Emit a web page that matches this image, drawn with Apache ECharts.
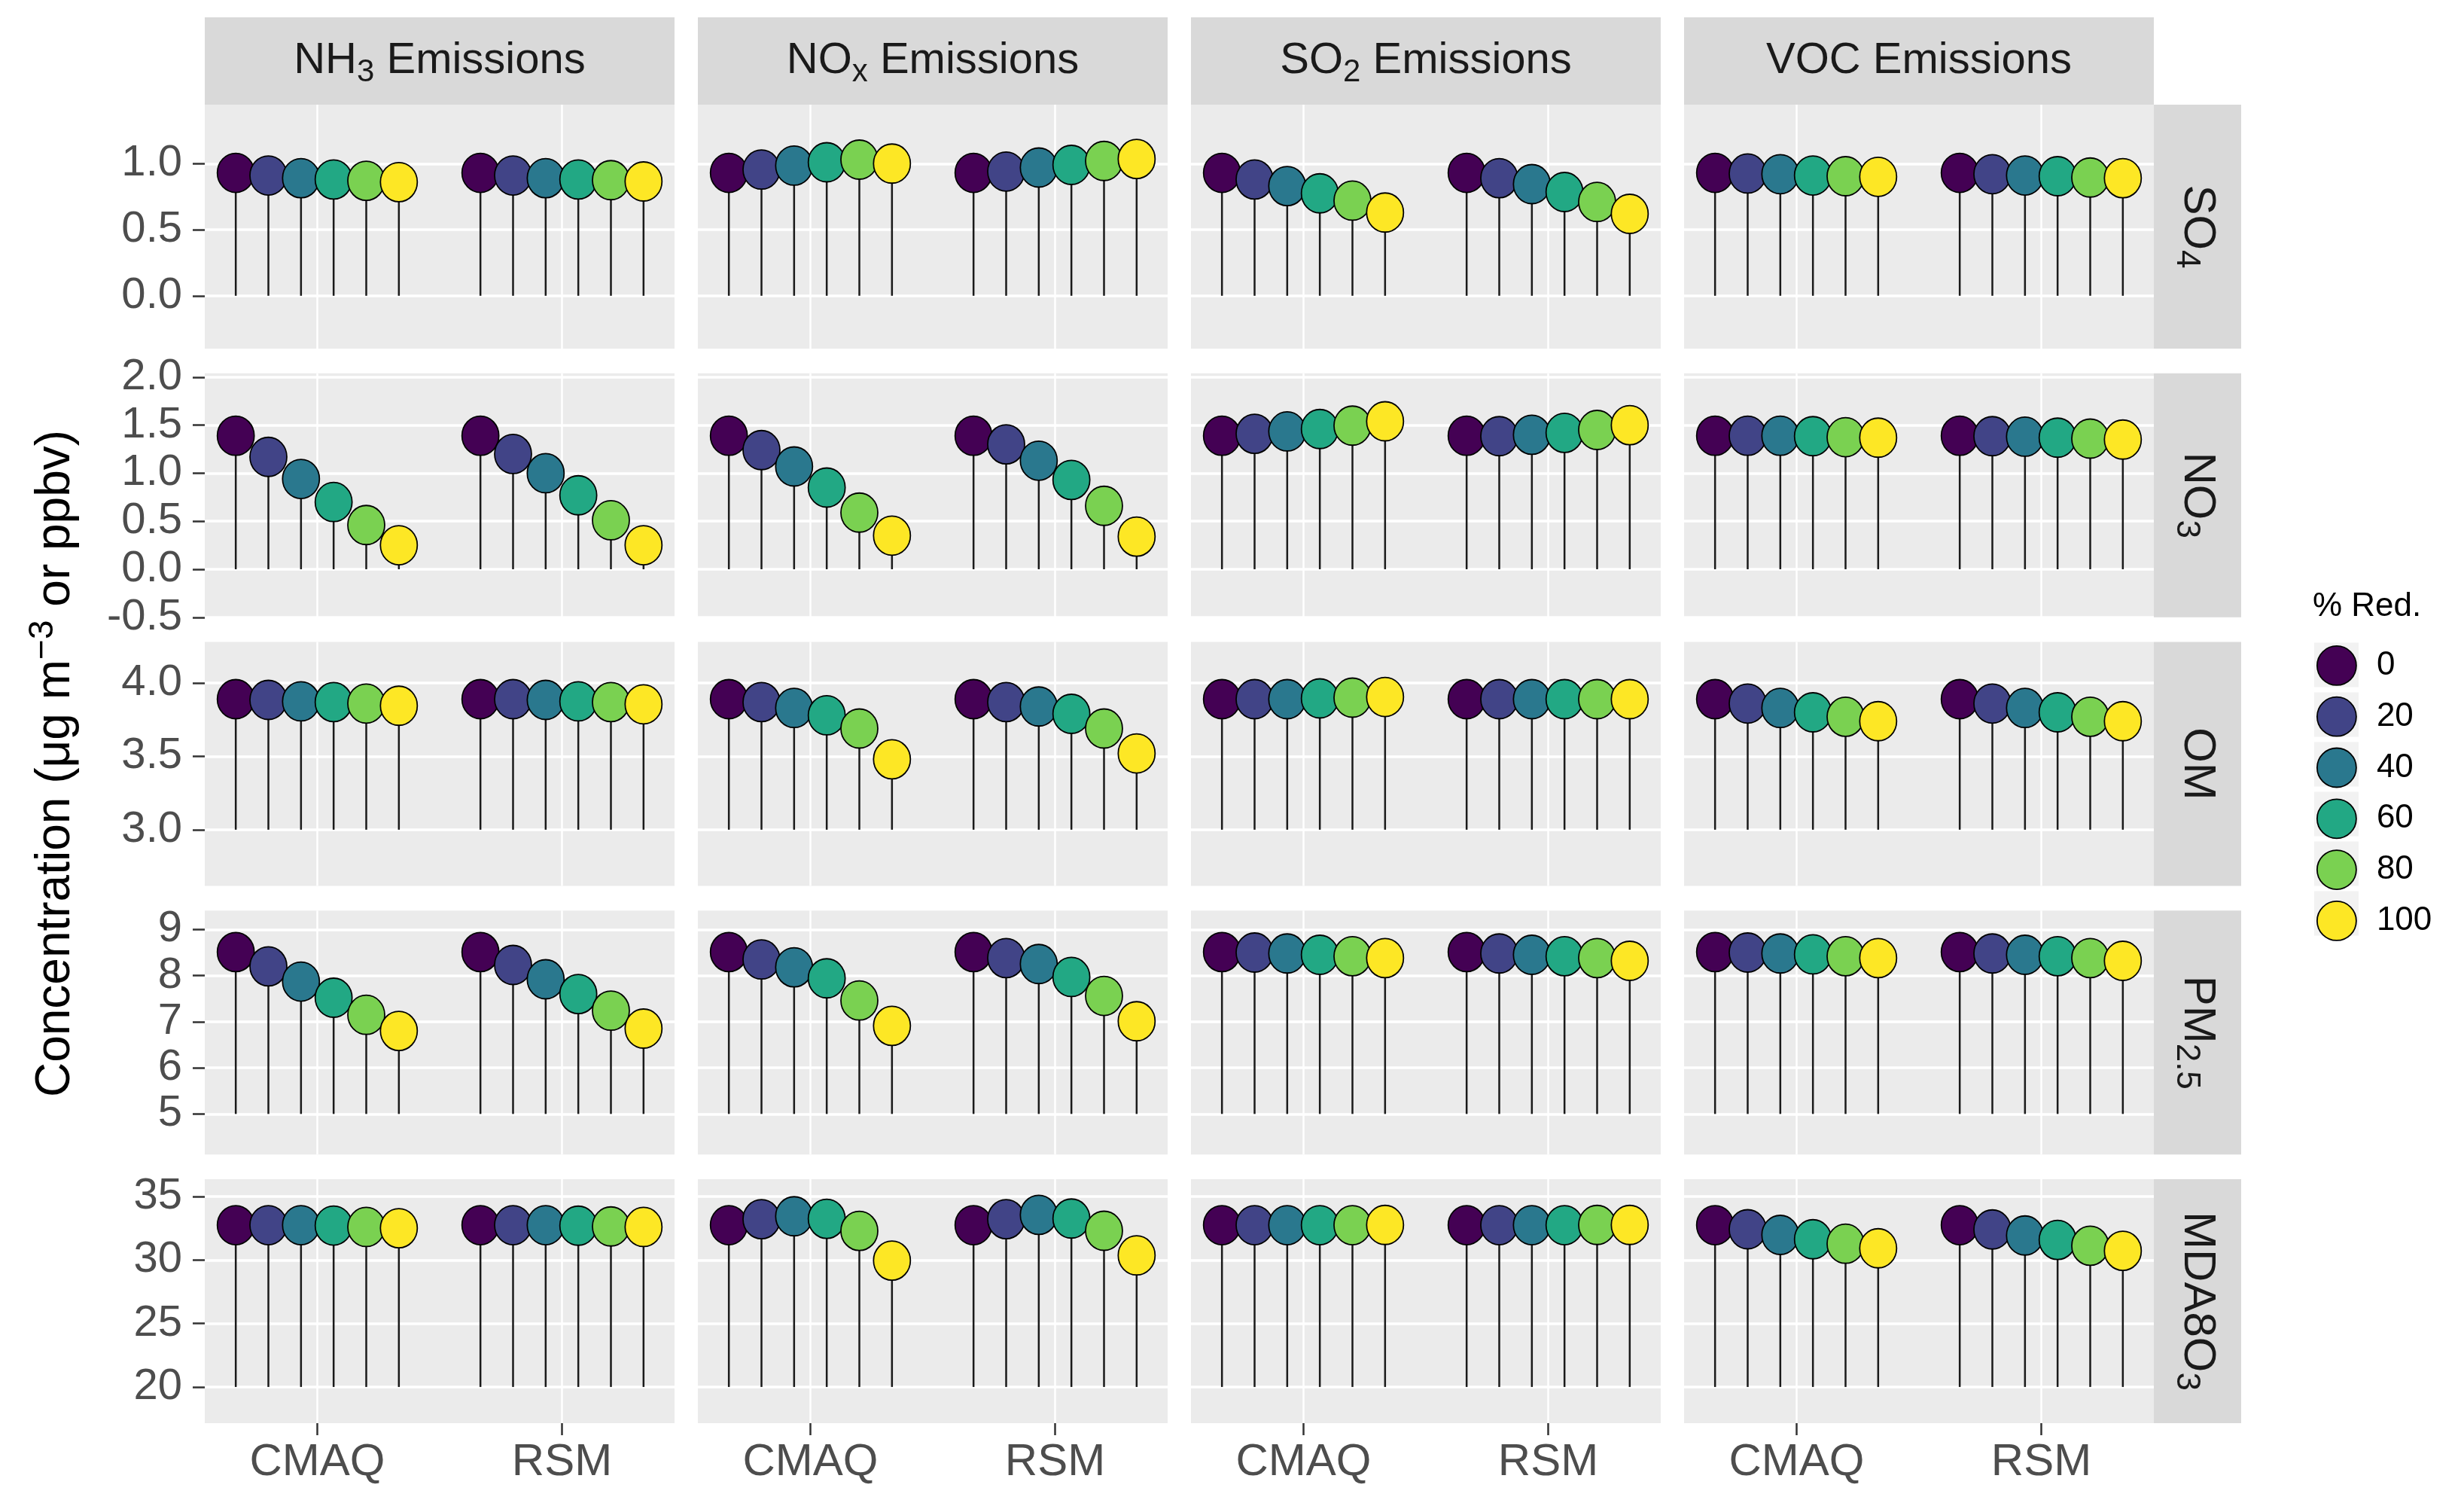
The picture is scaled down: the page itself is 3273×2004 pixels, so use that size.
<!DOCTYPE html>
<html><head><meta charset="utf-8">
<script src="https://cdn.jsdelivr.net/npm/echarts@6/dist/echarts.min.js"></script>
<style>html,body{margin:0;padding:0;background:#fff}#c{width:3273px;height:2004px}</style>
</head><body><div id="c"></div>
<script>
const models = ['CMAQ', 'RSM'];
const reductions = ['0', '20', '40', '60', '80', '100'];
const emissionLabels = ['NH{sub|3} Emissions', 'NO{sub|x} Emissions', 'SO{sub|2} Emissions', 'VOC Emissions'];
const speciesLabels = ['SO{sub|4}', 'NO{sub|3}', 'OM', 'PM{sub|2.5}', 'MDA8O{sub|3}'];
const colors = ['#440154', '#414487', '#2A788E', '#22A884', '#7AD151', '#FDE725'];

// each array: rows = NH3, NOx, SO2, VOC emission reductions; columns = 0..100 % reduction
const SO4_CMAQ = [
  [0.93, 0.91, 0.89, 0.88, 0.87, 0.86],
  [0.93, 0.955, 0.985, 1.01, 1.03, 1.00],
  [0.93, 0.88, 0.83, 0.775, 0.72, 0.63],
  [0.93, 0.925, 0.92, 0.91, 0.905, 0.90]];
const SO4_RSM = [
  [0.93, 0.91, 0.89, 0.88, 0.875, 0.865],
  [0.93, 0.94, 0.97, 0.99, 1.02, 1.035],
  [0.93, 0.89, 0.845, 0.785, 0.71, 0.62],
  [0.93, 0.92, 0.91, 0.905, 0.895, 0.89]];
const NO3_CMAQ = [
  [1.39, 1.17, 0.94, 0.70, 0.46, 0.25],
  [1.39, 1.24, 1.07, 0.85, 0.59, 0.35],
  [1.39, 1.41, 1.435, 1.46, 1.495, 1.54],
  [1.39, 1.39, 1.39, 1.385, 1.375, 1.37]];
const NO3_RSM = [
  [1.39, 1.20, 1.00, 0.77, 0.51, 0.25],
  [1.39, 1.30, 1.13, 0.93, 0.66, 0.34],
  [1.39, 1.385, 1.40, 1.42, 1.45, 1.50],
  [1.39, 1.385, 1.38, 1.37, 1.36, 1.35]];
const OM_CMAQ = [
  [3.89, 3.885, 3.875, 3.87, 3.86, 3.845],
  [3.89, 3.87, 3.83, 3.78, 3.69, 3.48],
  [3.89, 3.89, 3.89, 3.895, 3.90, 3.905],
  [3.89, 3.86, 3.83, 3.80, 3.77, 3.74]];
const OM_RSM = [
  [3.89, 3.89, 3.885, 3.875, 3.87, 3.855],
  [3.89, 3.87, 3.84, 3.79, 3.69, 3.52],
  [3.89, 3.89, 3.89, 3.89, 3.89, 3.89],
  [3.89, 3.86, 3.83, 3.80, 3.77, 3.74]];
const PM25_CMAQ = [
  [8.51, 8.20, 7.87, 7.52, 7.15, 6.80],
  [8.51, 8.35, 8.18, 7.94, 7.46, 6.91],
  [8.51, 8.50, 8.48, 8.45, 8.42, 8.38],
  [8.51, 8.50, 8.48, 8.46, 8.42, 8.38]];
const PM25_RSM = [
  [8.51, 8.23, 7.92, 7.60, 7.24, 6.85],
  [8.51, 8.38, 8.25, 7.97, 7.56, 7.01],
  [8.51, 8.48, 8.45, 8.42, 8.38, 8.32],
  [8.51, 8.48, 8.45, 8.42, 8.38, 8.32]];
const O3_CMAQ = [
  [32.74, 32.74, 32.74, 32.71, 32.6, 32.5],
  [32.74, 33.21, 33.44, 33.24, 32.29, 29.95],
  [32.74, 32.74, 32.74, 32.74, 32.74, 32.76],
  [32.74, 32.42, 31.97, 31.63, 31.28, 30.92]];
const O3_RSM = [
  [32.74, 32.74, 32.74, 32.70, 32.64, 32.6],
  [32.74, 33.21, 33.55, 33.26, 32.30, 30.36],
  [32.74, 32.74, 32.74, 32.74, 32.76, 32.76],
  [32.74, 32.40, 31.93, 31.58, 31.12, 30.72]];

// y scales per species row
const yMin = [-0.4, -0.5, 2.617, 4.12, 17.15];
const yMax = [1.446, 2.04, 4.28, 9.41, 36.36];
const yTicks = [[0, 0.5, 1], [-0.5, 0, 0.5, 1, 1.5, 2], [3, 3.5, 4], [5, 6, 7, 8, 9], [20, 25, 30, 35]];
const yDecimals = [1, 1, 1, 0, 0];
const stemBase = [0, 0, 3, 5, 20];

const speciesCMAQ = [SO4_CMAQ, NO3_CMAQ, OM_CMAQ, PM25_CMAQ, O3_CMAQ];
const speciesRSM = [SO4_RSM, NO3_RSM, OM_RSM, PM25_RSM, O3_RSM];

const FONT = '"Liberation Sans", Arial, Helvetica, sans-serif';
const L0 = 272, CW = 624, CS = 655, T0 = 139, RH = 324, RS = 356.75;
const dodge = 0.8 / 6;

const grids = [], xAxes = [], yAxes = [], series = [], graphics = [];

for (let r = 0; r < 5; r++) {
  for (let c = 0; c < 4; c++) {
    const g = r * 4 + c;
    grids.push({left: L0 + c * CS, top: T0 + r * RS, width: CW, height: RH,
      show: true, backgroundColor: '#EBEBEB', borderWidth: 0});
    xAxes.push({type: 'value', gridIndex: g, min: 0.54, max: 2.46,
      axisLine: {show: false},
      axisTick: {show: r === 4, length: 16, customValues: [1, 2], lineStyle: {color: '#333333', width: 2.5}},
      axisLabel: {show: r === 4, customValues: [1, 2], margin: 22, fontSize: 60, color: '#4D4D4D', fontFamily: FONT,
        formatter: v => models[Math.round(v) - 1]},
      splitLine: {show: true, lineStyle: {color: '#FFFFFF', width: 2.5}}});
    const dec = yDecimals[r];
    yAxes.push({type: 'value', gridIndex: g, min: yMin[r], max: yMax[r],
      axisLine: {show: false},
      axisTick: {show: c === 0, length: 16, customValues: yTicks[r], lineStyle: {color: '#333333', width: 2.5}},
      axisLabel: {show: c === 0, customValues: yTicks[r], margin: 30, fontSize: 58, color: '#4D4D4D', fontFamily: FONT,
        formatter: v => v.toFixed(dec)},
      splitLine: {show: true, lineStyle: {color: '#FFFFFF', width: 3.5}}});

    const cm = speciesCMAQ[r][c], rs = speciesRSM[r][c];
    const stemData = [];
    for (let k = 0; k < 6; k++) {
      stemData.push([1 + (k - 2.5) * dodge, cm[k]]);
      stemData.push([2 + (k - 2.5) * dodge, rs[k]]);
    }
    const base = stemBase[r];
    series.push({type: 'custom', xAxisIndex: g, yAxisIndex: g, z: 2, silent: true, data: stemData,
      renderItem: function (params, api) {
        const p = api.coord([api.value(0), api.value(1)]);
        const b = api.coord([api.value(0), base]);
        return {type: 'line', shape: {x1: p[0], y1: b[1], x2: p[0], y2: p[1]},
          style: {stroke: '#1A1A1A', lineWidth: 2.5}};
      }});
    for (let k = 0; k < 6; k++) {
      series.push({type: 'scatter', name: reductions[k], xAxisIndex: g, yAxisIndex: g, z: 3,
        symbol: 'circle', symbolSize: [49, 52],
        itemStyle: {color: colors[k], borderColor: '#000000', borderWidth: 1.8, opacity: 1},
        data: [[1 + (k - 2.5) * dodge, cm[k]], [2 + (k - 2.5) * dodge, rs[k]]]});
    }
  }
}

// column strips
for (let c = 0; c < 4; c++) {
  graphics.push({type: 'rect', z: 1, shape: {x: L0 + c * CS, y: 23, width: CW, height: 116}, style: {fill: '#D9D9D9'}});
  graphics.push({type: 'text', z: 2, x: L0 + c * CS + CW / 2, y: 81,
    style: {text: emissionLabels[c], fontSize: 58, fontFamily: FONT, fill: '#1A1A1A', lineHeight: 72,
      align: 'center', verticalAlign: 'middle',
      rich: {sub: {fontSize: 42, fontFamily: FONT, fill: '#1A1A1A', lineHeight: 43, verticalAlign: 'bottom'}}}});
}
// row strips
for (let r = 0; r < 5; r++) {
  graphics.push({type: 'rect', z: 1, shape: {x: L0 + 3 * CS + CW, y: T0 + r * RS, width: 116, height: RH}, style: {fill: '#D9D9D9'}});
  graphics.push({type: 'text', z: 2, x: L0 + 3 * CS + CW + 58, y: T0 + r * RS + RH / 2, rotation: -Math.PI / 2,
    style: {text: speciesLabels[r], fontSize: 60, fontFamily: FONT, fill: '#1A1A1A', lineHeight: 74,
      align: 'center', verticalAlign: 'middle',
      rich: {sub: {fontSize: 44, fontFamily: FONT, fill: '#1A1A1A', lineHeight: 44, verticalAlign: 'bottom'}}}});
}
// y-axis title
graphics.push({type: 'text', z: 2, x: 74, y: 1014, rotation: Math.PI / 2,
  style: {text: 'Concentration (μg m{sup|−3} or ppbv)', fontSize: 64, fontFamily: FONT, fill: '#000000', lineHeight: 80,
    align: 'center', verticalAlign: 'middle',
    rich: {sup: {fontSize: 46, fontFamily: FONT, fill: '#000000', lineHeight: 30, verticalAlign: 'top'}}}});
// legend title and key backgrounds
graphics.push({type: 'text', z: 2, x: 3072, y: 806,
  style: {text: '% Red.', fontSize: 44, fontFamily: FONT, fill: '#000000', align: 'left', verticalAlign: 'middle'}});
for (let i = 0; i < 6; i++) {
  graphics.push({type: 'rect', z: 0, shape: {x: 3074, y: 883 + i * 66 - 29.5, width: 59, height: 59}, style: {fill: '#F2F2F2'}});
}

const chart = echarts.init(document.getElementById('c'));
chart.setOption({
  backgroundColor: '#FFFFFF',
  animation: false,
  grid: grids, xAxis: xAxes, yAxis: yAxes, series: series,
  graphic: graphics,
  legend: {data: reductions, orient: 'vertical', left: 3077, top: 857, padding: 0,
    itemWidth: 52, itemHeight: 52, itemGap: 14, icon: 'circle', selectedMode: false, z: 10,
    itemStyle: {borderColor: '#000000', borderWidth: 1.8},
    textStyle: {fontSize: 44, color: '#000000', fontFamily: FONT, padding: [0, 0, 0, 22]}}
});
</script></body></html>
